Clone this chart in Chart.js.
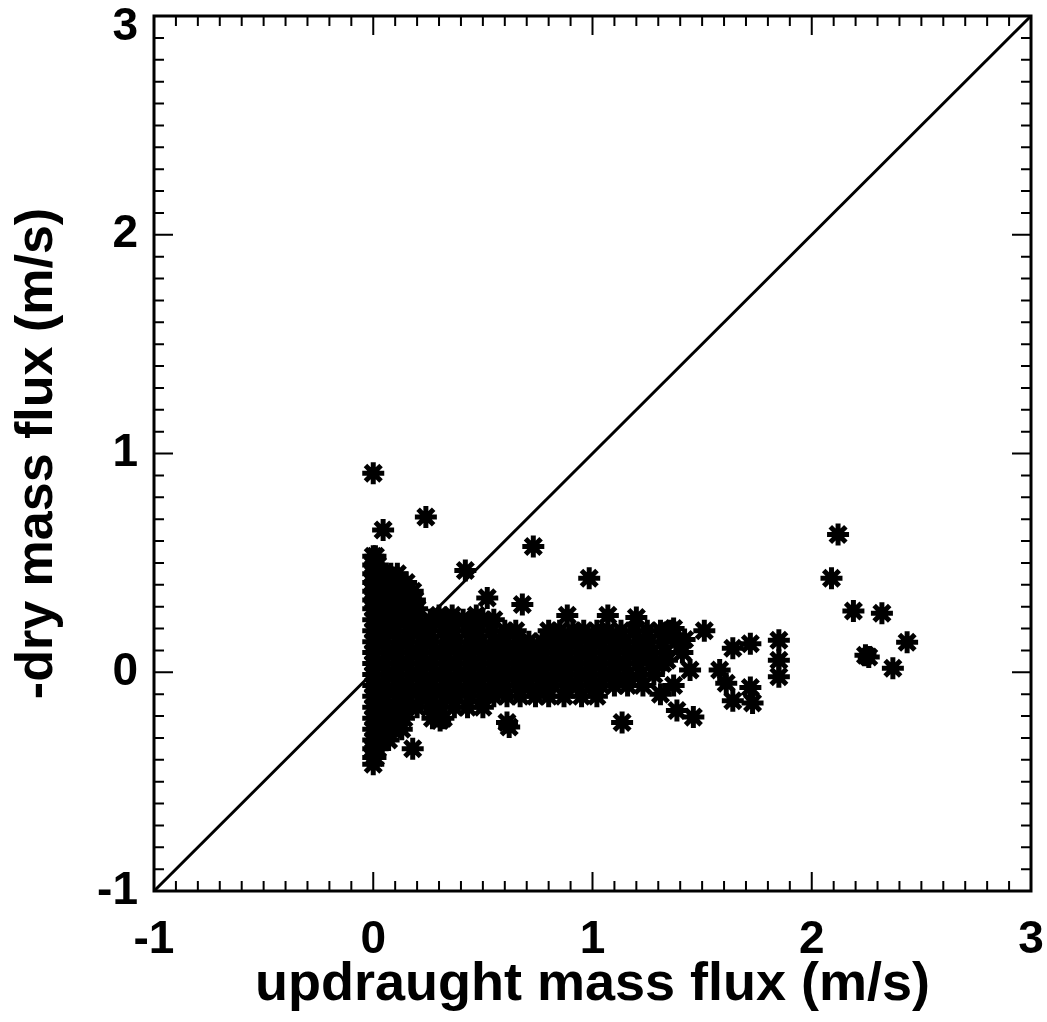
<!DOCTYPE html>
<html>
<head>
<meta charset="utf-8">
<script src="https://cdn.jsdelivr.net/npm/chart.js@4.4.0/dist/chart.umd.min.js"></script>
<style>
  html, body { margin: 0; padding: 0; background: #fff; }
</style>
</head>
<body>
<canvas id="fluxChart" width="1047" height="1022"></canvas>
<script>
// dense cloud: one y per row, x values along it
const blobRowY = [0.53, 0.49, 0.45, 0.41, 0.37, 0.33, 0.29, 0.26, 0.24, 0.19, 0.14, 0.09, 0.04, -0.01, -0.06, -0.11, -0.16, -0.21, -0.26, -0.31, -0.35, -0.39, -0.42];
const blobRowX = [
  [0.0, 0.01],
  [0.0, 0.02],
  [0.0, 0.04, 0.08, 0.11],
  [0.0, 0.03, 0.07, 0.12, 0.15],
  [0.0, 0.05, 0.1, 0.14, 0.18],
  [0.0, 0.04, 0.09, 0.14, 0.19],
  [0.0, 0.05, 0.1, 0.15, 0.2],
  [0.3, 0.36, 0.47],
  [0.0, 0.05, 0.1, 0.15, 0.2, 0.26, 0.31, 0.36, 0.41, 0.46, 0.5, 0.55],
  [0.0, 0.05, 0.1, 0.16, 0.21, 0.26, 0.32, 0.37, 0.43, 0.48, 0.54, 0.6, 0.65, 0.8, 0.85, 0.91, 0.96, 1.02, 1.07, 1.13, 1.19, 1.25, 1.31],
  [0.0, 0.05, 0.11, 0.16, 0.22, 0.27, 0.33, 0.38, 0.44, 0.49, 0.55, 0.6, 0.66, 0.71, 0.77, 0.82, 0.88, 0.93, 0.99, 1.04, 1.1, 1.15, 1.21, 1.26, 1.32, 1.38],
  [0.0, 0.06, 0.11, 0.17, 0.22, 0.28, 0.33, 0.39, 0.44, 0.5, 0.55, 0.61, 0.66, 0.72, 0.77, 0.83, 0.88, 0.94, 0.99, 1.05, 1.1, 1.16, 1.21, 1.27, 1.33, 1.41],
  [0.0, 0.05, 0.11, 0.16, 0.22, 0.27, 0.33, 0.38, 0.44, 0.49, 0.55, 0.6, 0.66, 0.71, 0.77, 0.82, 0.88, 0.93, 0.99, 1.04, 1.1, 1.15, 1.21, 1.27, 1.32],
  [0.0, 0.06, 0.11, 0.17, 0.22, 0.28, 0.33, 0.39, 0.44, 0.5, 0.55, 0.61, 0.66, 0.72, 0.77, 0.83, 0.88, 0.94, 0.99, 1.05, 1.1, 1.16, 1.22, 1.28],
  [0.0, 0.05, 0.11, 0.16, 0.22, 0.27, 0.33, 0.38, 0.44, 0.49, 0.55, 0.6, 0.66, 0.71, 0.77, 0.82, 0.88, 0.93, 0.99, 1.04, 1.1, 1.16, 1.23, 1.37],
  [0.0, 0.05, 0.11, 0.16, 0.22, 0.27, 0.33, 0.38, 0.44, 0.5, 0.55, 0.61, 0.67, 0.74, 0.8, 0.87, 0.95, 1.02],
  [0.0, 0.05, 0.1, 0.15, 0.2, 0.26, 0.31, 0.37, 0.43, 0.5],
  [0.0, 0.04, 0.09, 0.14, 0.27, 0.32],
  [0.0, 0.04, 0.09, 0.13],
  [0.0, 0.03, 0.07],
  [0.0, 0.02],
  [0.0, 0.01],
  [0.0]
];

// scattered points outside the cloud [x, y]
const outliers = [
  [0.0, 0.91], [0.045, 0.65], [0.24, 0.71], [0.73, 0.575], [0.42, 0.465],
  [0.985, 0.43], [0.52, 0.34], [0.68, 0.31], [0.885, 0.26], [1.07, 0.26],
  [1.2, 0.25], [1.37, 0.2], [1.51, 0.19], [1.355, 0.19], [1.42, 0.15],
  [2.09, 0.43], [2.12, 0.63], [2.19, 0.28], [2.32, 0.27], [2.435, 0.137],
  [2.245, 0.078], [2.26, 0.07], [2.37, 0.018],
  [1.135, -0.23], [0.61, -0.23], [0.62, -0.25], [0.18, -0.35], [0.305, -0.22],
  [1.46, -0.205], [1.385, -0.175], [1.34, 0.055], [1.445, 0.01], [1.31, -0.1],
  [1.58, 0.01], [1.61, -0.05], [1.64, 0.11], [1.72, 0.13], [1.72, -0.07],
  [1.73, -0.14], [1.64, -0.13], [1.85, 0.146], [1.85, 0.055], [1.85, -0.02]
];

// one-to-one line
const diagX = [-1, 3];
const diagY = [-1, 3];

const points = [];
blobRowY.forEach((yv, i) => {
  blobRowX[i].forEach((xv) => points.push({ x: xv, y: yv }));
});
outliers.forEach((p) => points.push({ x: p[0], y: p[1] }));

const fontFam = "'Liberation Sans', Arial, sans-serif";
const tickFont = { family: fontFam, size: 46, weight: 'bold' };

// inward ticks on all four sides + frame, and the top y label which sits below its tick
const idlTicks = {
  id: 'idlTicks',
  afterDatasetsDraw(chart) {
    const { ctx, chartArea: a, scales: { x, y } } = chart;
    ctx.save();
    ctx.strokeStyle = '#000';
    ctx.lineWidth = 2;
    ctx.beginPath();
    for (let i = 0; i <= 40; i++) {
      const v = -1 + i / 10;
      const len = i % 10 === 0 ? 19 : 10;
      const px = x.getPixelForValue(v);
      const py = y.getPixelForValue(v);
      ctx.moveTo(px, a.bottom); ctx.lineTo(px, a.bottom - len);
      ctx.moveTo(px, a.top); ctx.lineTo(px, a.top + len);
      ctx.moveTo(a.left, py); ctx.lineTo(a.left + len, py);
      ctx.moveTo(a.right, py); ctx.lineTo(a.right - len, py);
    }
    ctx.stroke();
    ctx.lineWidth = 3;
    ctx.strokeRect(a.left, a.top, a.right - a.left, a.bottom - a.top);

    ctx.fillStyle = '#000';
    ctx.font = 'bold 46px ' + fontFam;
    ctx.textAlign = 'right';
    ctx.textBaseline = 'middle';
    ctx.fillText('3', a.left - 16, y.getPixelForValue(3) + 11);
    ctx.restore();
  }
};

const data = {
  datasets: [
    {
      type: 'scatter',
      data: points,
      pointStyle: 'star',
      pointRadius: 11,
      pointBorderWidth: 5,
      pointBorderColor: '#000',
      pointBackgroundColor: '#000',
      order: 1
    },
    {
      type: 'line',
      data: diagX.map((v, i) => ({ x: v, y: diagY[i] })),
      borderColor: '#000',
      borderWidth: 3,
      pointRadius: 0,
      order: 2
    }
  ]
};

const config = {
  type: 'scatter',
  data: data,
  options: {
    responsive: false,
    animation: false,
    events: [],
    layout: { padding: { top: 15, right: 16, left: 0, bottom: 0 } },
    plugins: { legend: { display: false }, tooltip: { enabled: false } },
    scales: {
      x: {
        type: 'linear',
        min: -1, max: 3,
        grid: { display: false, drawTicks: false },
        border: { display: false },
        ticks: { stepSize: 1, color: '#000', padding: 22, font: tickFont },
        title: { display: true, text: 'updraught mass flux (m/s)', color: '#000', padding: 4, font: { family: fontFam, size: 54, weight: 'bold' } },
        afterFit(scale) {
          scale.height = 131;
          scale.paddingLeft = 0; scale.paddingRight = 0;
        }
      },
      y: {
        type: 'linear',
        min: -1, max: 3,
        grid: { display: false, drawTicks: false },
        border: { display: false },
        ticks: {
          stepSize: 1, color: '#000', padding: 16, font: tickFont,
          callback: (v) => (v === 3 ? '' : v)
        },
        title: { display: true, text: '-dry mass flux (m/s)', color: '#000', padding: 6, font: { family: fontFam, size: 52, weight: 'bold' } },
        afterFit(scale) {
          scale.width = 154;
          scale.paddingTop = 0; scale.paddingBottom = 0;
        }
      }
    }
  },
  plugins: [idlTicks]
};

const ctx = document.getElementById('fluxChart');
new Chart(ctx, config);
</script>
</body>
</html>
